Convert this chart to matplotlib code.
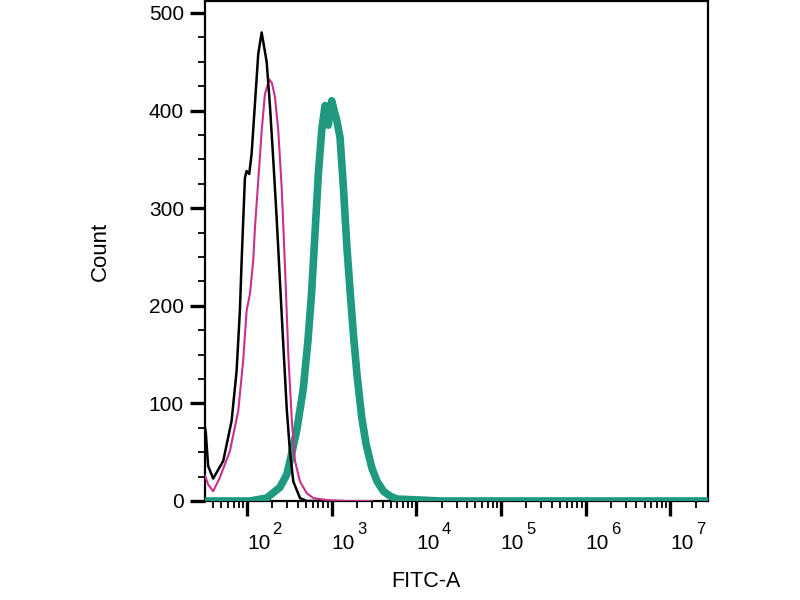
import matplotlib
matplotlib.use('Agg')
import matplotlib.pyplot as plt
import matplotlib.ticker as mticker
import numpy as np

plt.rcParams['font.family'] = ['Liberation Sans', 'DejaVu Sans']

# control (black)
black_x = [31.8, 32.7, 34.8, 39.9, 52.5, 65.9, 75.5, 82.6, 86.6, 90.4, 94.7, 99.2,
           106.5, 113.7, 124.4, 136.1, 149.3, 171.0, 187.1, 204.7, 224.5, 245.7,
           269, 295.1, 322.8, 353.2, 423.6, 508.8, 700]
black_y = [76, 70, 36, 23, 41, 82, 133, 195, 246, 287, 331, 338,
           335, 356, 407, 458, 480, 450, 405, 350, 290, 225,
           160, 95, 50, 20, 3, 0, 0]

# second control (magenta)
pink_x = [31.8, 32.7, 34.8, 39.9, 47.9, 62.9, 78.9, 90.4, 99.2, 108.5, 118.7, 124.4,
          136.1, 149.3, 163.3, 183.6, 197.6, 214.4, 234.4, 257.5, 281.8, 308.3,
          338, 369.8, 423.6, 508.8, 609.5, 877, 1513, 3000]
pink_y = [26, 24, 17, 10, 24, 51, 92, 144, 195, 212, 246, 280,
          328, 379, 417, 432, 428, 414, 380, 321, 240, 150,
          85, 41, 20, 8, 3, 1, 0, 0]

# stained sample (teal)
teal_x = [31.8, 108.5, 171.0, 245.7, 295.1, 322.8, 387.3, 463.4, 527, 583, 638, 698,
          765.6, 837.5, 877, 916.2, 960, 1004.6, 1071, 1153, 1261, 1380, 1513, 1656,
          1811, 2004, 2277, 2561, 2990, 3455, 4105, 4920, 5910, 11150, 19230, 2.8e7]
teal_y = [0, 0, 3, 14, 27, 41, 72, 115, 165, 215, 275, 335,
          380, 405, 395, 385, 400, 410, 400, 390, 372, 321, 262, 215,
          171, 128, 85, 58, 34, 20, 10, 5, 2, 1, 0, 0]

decades = [2, 3, 4, 5, 6, 7]
y_ticks = [0, 100, 200, 300, 400, 500]

fig = plt.figure(figsize=(8, 6), dpi=100)
ax = fig.add_axes([0.256, 0.165, 0.629, 0.833])

ax.plot(teal_x, teal_y, color='#1f9a80', lw=5.5, solid_joinstyle='round',
        solid_capstyle='round', zorder=3)
ax.plot(pink_x, pink_y, color='#c8308e', lw=1.5, zorder=4)
ax.plot(black_x, black_y, color='black', lw=1.8, zorder=5)

ax.set_xscale('log')
ax.set_xlim(31.8, 2.8e7)
ax.set_ylim(0, 512)

ax.xaxis.set_major_locator(mticker.FixedLocator([10.0 ** d for d in decades]))
ax.xaxis.set_minor_locator(mticker.LogLocator(base=10, subs=np.arange(2, 10), numticks=20))
ax.set_xticklabels(['10'] * len(decades), fontsize=15, ha='left')
ax.xaxis.set_minor_formatter(mticker.NullFormatter())

# exponents of the decade labels
for d in decades:
    ax.annotate(str(d), xy=(10.0 ** d, 0), xycoords=('data', 'axes fraction'),
                xytext=(18.5, -15), textcoords='offset points',
                fontsize=12, ha='left', va='top', annotation_clip=False)

ax.set_yticks(y_ticks)
ax.yaxis.set_minor_locator(mticker.MultipleLocator(25))
ax.set_yticklabels([str(v) for v in y_ticks], fontsize=15)

ax.tick_params(axis='both', which='major', length=11, width=2.4, color='black')
ax.tick_params(axis='both', which='minor', length=5, width=1.3, color='black')
ax.tick_params(axis='x', which='major', pad=13)
ax.tick_params(axis='y', which='major', pad=4)

for sp in ax.spines.values():
    sp.set_linewidth(1.6)

ax.set_xlabel('FITC-A', fontsize=15.5)
ax.xaxis.set_label_coords(0.44, -0.14)
ax.set_ylabel('Count', fontsize=16)
ax.yaxis.set_label_coords(-0.187, 0.5)

fig.savefig('out.png', dpi=100)
